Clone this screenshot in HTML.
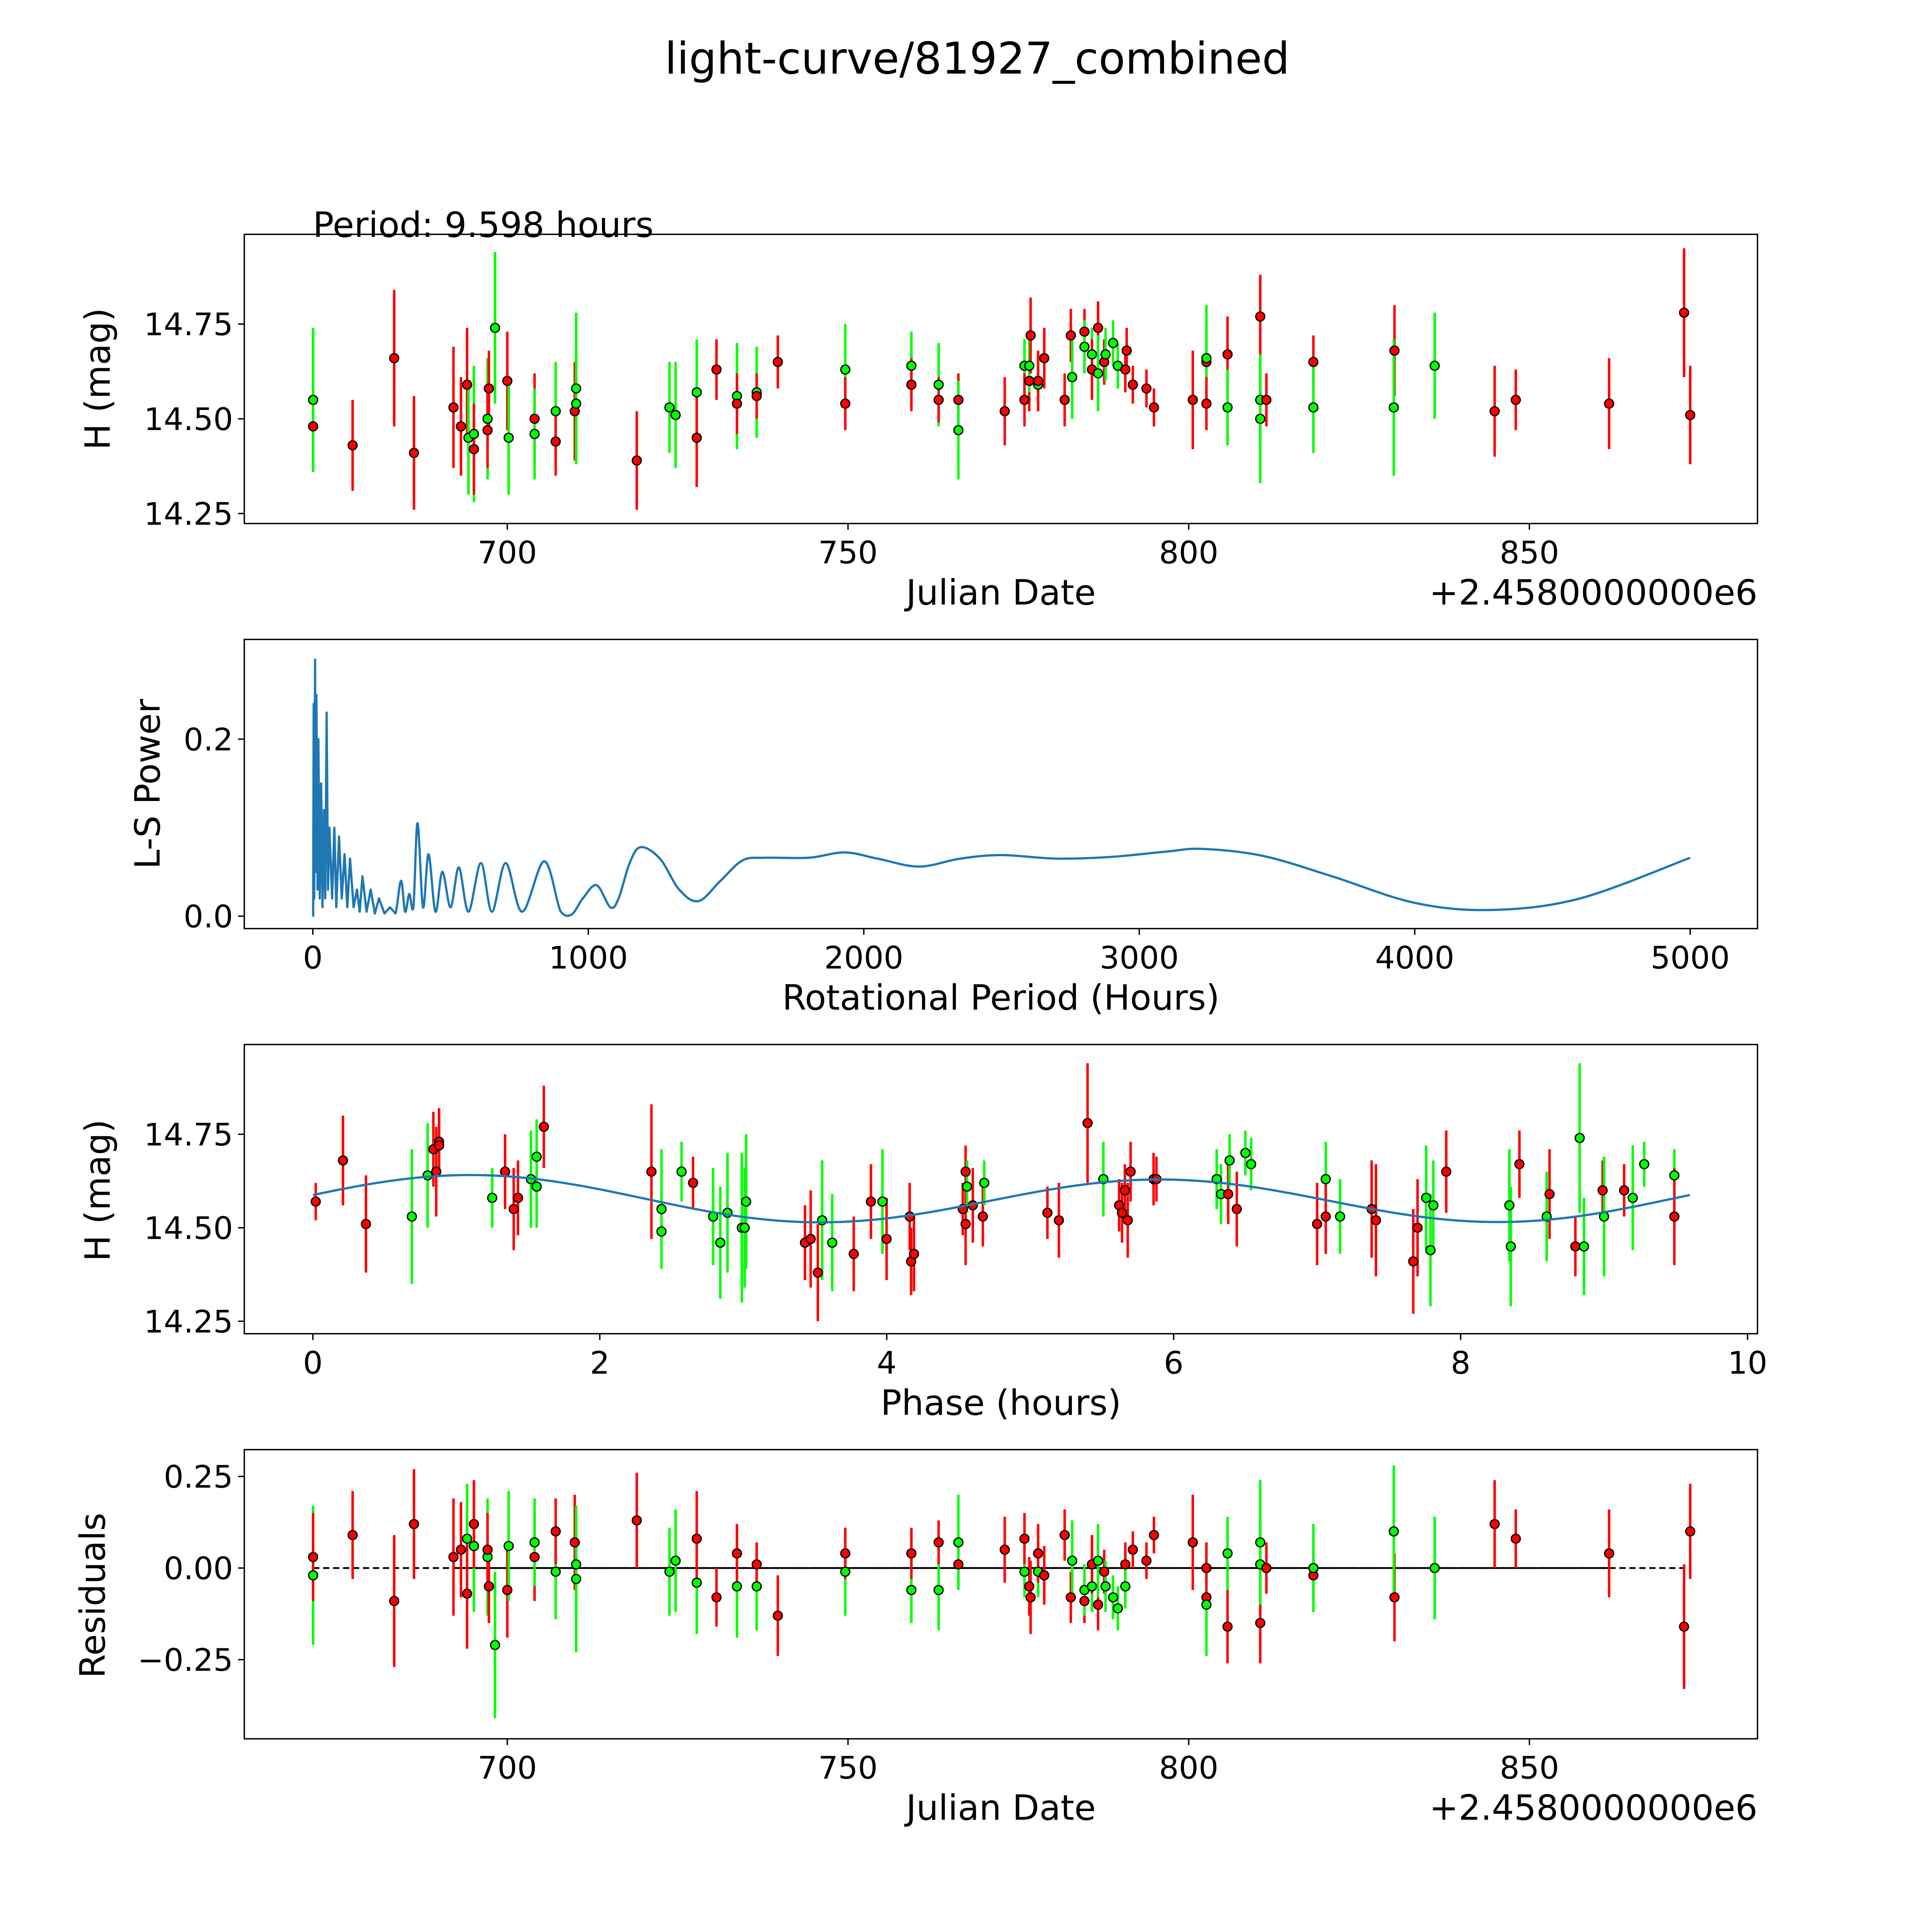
<!DOCTYPE html>
<html><head><meta charset="utf-8"><style>html,body{margin:0;padding:0;background:#fff;overflow:hidden;width:100vw;height:100vh}svg{display:block;width:100vw;height:100vh}text{font-family:"DejaVu Sans","Liberation Sans",sans-serif;fill:#000}</style></head>
<body>
<svg id="fig" xmlns="http://www.w3.org/2000/svg" viewBox="0 0 1550 1550" preserveAspectRatio="none">
<rect width="1550" height="1550" fill="#fff"/>
<text x="784" y="59" font-size="35" text-anchor="middle">light-curve/81927_combined</text>
</svg>
<script>
// ---- Panel 1: light curve data ----
const lcJd=[671.5,671.5,677.3,683.4,686.3,692.1,693.2,694.1,694.3,695.1,695.1,697.1,697.1,697.3,698.2,700.0,700.2,704.0,704.0,707.1,707.1,709.9,710.1,710.1,719.0,723.8,724.7,727.8,727.8,730.7,733.7,733.7,736.6,736.6,739.7,749.6,749.6,759.3,759.3,763.3,763.3,766.2,766.2,773.0,775.9,775.9,776.6,776.6,776.8,777.9,777.9,778.8,781.8,782.7,782.9,784.7,784.7,785.8,785.8,786.7,786.7,787.6,787.8,788.9,789.6,790.7,790.9,791.8,793.8,794.9,800.6,802.6,802.6,802.6,805.7,805.7,810.5,810.5,810.5,811.4,818.3,818.3,830.2,830.1,836.1,844.9,848.0,861.7,872.7,873.6];
const lcMag=[14.48,14.55,14.43,14.66,14.41,14.53,14.48,14.59,14.45,14.46,14.42,14.50,14.47,14.58,14.74,14.60,14.45,14.50,14.46,14.52,14.44,14.52,14.54,14.58,14.39,14.53,14.51,14.57,14.45,14.63,14.56,14.54,14.57,14.56,14.65,14.63,14.54,14.64,14.59,14.59,14.55,14.55,14.47,14.52,14.64,14.55,14.60,14.64,14.72,14.59,14.60,14.66,14.55,14.72,14.61,14.73,14.69,14.67,14.63,14.74,14.62,14.65,14.67,14.70,14.64,14.63,14.68,14.59,14.58,14.53,14.55,14.65,14.66,14.54,14.67,14.53,14.77,14.55,14.50,14.55,14.65,14.53,14.68,14.53,14.64,14.52,14.55,14.54,14.78,14.51];
const lcErr=[0.12,0.19,0.12,0.18,0.15,0.16,0.13,0.15,0.15,0.18,0.12,0.16,0.1,0.1,0.2,0.13,0.15,0.12,0.12,0.13,0.09,0.13,0.14,0.2,0.13,0.12,0.14,0.14,0.13,0.08,0.14,0.08,0.12,0.06,0.07,0.12,0.07,0.09,0.07,0.11,0.06,0.07,0.13,0.09,0.07,0.07,0.08,0.07,0.1,0.07,0.08,0.08,0.07,0.07,0.11,0.06,0.07,0.07,0.08,0.07,0.1,0.06,0.07,0.06,0.06,0.06,0.06,0.05,0.05,0.05,0.13,0.1,0.14,0.07,0.1,0.1,0.11,0.11,0.17,0.07,0.07,0.12,0.12,0.18,0.14,0.12,0.08,0.12,0.17,0.13];
const lcBand=['r','g','r','r','r','r','r','r','g','g','r','g','r','r','g','r','g','r','g','g','r','r','g','g','r','g','g','g','r','r','g','r','g','r','r','g','r','g','r','g','r','r','g','r','g','r','r','g','r','g','r','r','r','r','g','r','g','g','r','r','g','r','g','g','g','r','r','r','r','r','r','r','g','r','r','g','r','g','g','r','r','g','r','g','g','r','r','r','r','r'];
// ---- Panel 2: periodogram ----
const lsPeriod=[0,1,3,5,8,10,13,17,20,25,30,35,40,45,50,55,60,70,78,85,95,105,115,125,135,148,160,170,180,195,210,225,240,260,280,300,320,335,350,365,380,400,420,445,470,500,530,565,610,650,700,760,840,900,940,980,1030,1080,1110,1150,1190,1260,1330,1400,1480,1560,1640,1800,1930,2050,2200,2350,2500,2700,2900,3100,3230,3450,3700,4000,4280,4600,5000];
const lsPower=[0,0,0.24,0.02,0.29,0.05,0.25,0.03,0.2,0.02,0.15,0.01,0.12,0.02,0.23,0.03,0.1,0.02,0.1,0.01,0.09,0.02,0.07,0.01,0.065,0.01,0.03,0.005,0.045,0.005,0.03,0.003,0.02,0.003,0.01,0.003,0.04,0.005,0.025,0.01,0.105,0.01,0.07,0.005,0.05,0.01,0.055,0.005,0.06,0.005,0.06,0.005,0.062,0.005,0.002,0.02,0.035,0.01,0.02,0.06,0.078,0.065,0.03,0.017,0.04,0.063,0.066,0.066,0.072,0.065,0.056,0.065,0.069,0.065,0.067,0.073,0.076,0.068,0.045,0.015,0.007,0.02,0.066];
// ---- Panel 3: phased data ----
const phPhase=[0.02,0.21,0.37,0.69,0.80,0.84,0.86,0.88,0.88,1.25,1.34,1.40,1.43,1.52,1.56,1.56,1.61,2.36,2.43,2.43,2.57,2.65,2.79,2.84,2.89,2.99,3.01,3.02,3.43,3.47,3.52,3.55,3.62,3.77,3.89,3.97,3.999,4.16,4.17,4.19,4.53,4.55,4.55,4.56,4.60,4.67,4.68,5.12,5.20,5.40,5.51,5.62,5.64,5.66,5.68,5.70,5.86,5.88,6.30,6.33,6.38,6.39,6.44,6.50,6.54,7.00,7.06,7.06,7.16,7.38,7.41,7.67,7.70,7.76,7.79,7.81,7.90,8.34,8.35,8.41,8.60,8.62,8.80,8.83,8.86,8.99,9.00,9.14,9.20,9.28,9.49,9.49];
const phMag=[14.57,14.68,14.51,14.53,14.64,14.71,14.65,14.73,14.72,14.58,14.65,14.55,14.58,14.63,14.69,14.61,14.77,14.65,14.55,14.49,14.65,14.62,14.53,14.46,14.54,14.50,14.50,14.57,14.46,14.47,14.38,14.52,14.46,14.43,14.57,14.57,14.47,14.53,14.41,14.43,14.55,14.65,14.51,14.61,14.56,14.53,14.62,14.54,14.52,14.78,14.63,14.56,14.54,14.60,14.52,14.65,14.63,14.63,14.63,14.59,14.59,14.68,14.55,14.70,14.67,14.51,14.63,14.53,14.53,14.55,14.52,14.41,14.50,14.58,14.44,14.56,14.65,14.56,14.45,14.67,14.53,14.59,14.45,14.74,14.45,14.60,14.53,14.60,14.58,14.67,14.64,14.53];
const phBand=['r','r','r','g','g','r','r','r','r','g','r','r','r','g','g','g','r','r','g','g','g','r','g','g','g','g','g','g','r','r','r','g','g','r','r','g','r','r','r','r','r','r','r','g','r','r','g','r','r','r','g','r','r','r','r','r','r','r','g','g','r','g','r','g','g','r','g','r','g','r','r','r','r','g','g','g','r','g','g','r','g','r','r','g','g','r','g','r','g','g','g','r'];
const phErr=[0.05,0.12,0.13,0.18,0.14,0.1,0.12,0.09,0.08,0.08,0.1,0.11,0.1,0.13,0.1,0.11,0.11,0.18,0.16,0.1,0.08,0.07,0.13,0.15,0.16,0.2,0.16,0.18,0.1,0.13,0.13,0.16,0.13,0.1,0.1,0.14,0.11,0.09,0.09,0.1,0.07,0.07,0.11,0.07,0.1,0.08,0.06,0.07,0.1,0.16,0.1,0.07,0.08,0.07,0.1,0.08,0.07,0.06,0.08,0.08,0.08,0.07,0.1,0.06,0.07,0.11,0.1,0.1,0.1,0.13,0.15,0.14,0.13,0.14,0.15,0.12,0.11,0.15,0.16,0.09,0.12,0.12,0.08,0.2,0.13,0.08,0.16,0.07,0.14,0.06,0.07,0.13];
// fit model coefficients
const fitConst=[14.575];
const fitAmp=[0.06,0.006];
const fitShift=[1.1,1.0];
const fitPeriod=[9.598];
// ---- Panel 4: residuals ----
const resJd=[671.5,671.5,677.3,683.4,686.3,692.1,693.2,694.1,694.1,695.1,695.1,697.1,697.1,697.3,698.2,700.0,700.2,704.0,704.0,707.1,707.1,709.9,710.1,710.1,719.0,723.8,724.7,727.8,727.8,730.7,733.7,733.7,736.6,736.6,739.7,749.6,749.6,759.3,759.3,763.3,763.3,766.2,766.2,773.0,775.9,775.9,776.6,776.8,777.9,777.9,778.8,781.8,782.7,782.9,784.7,784.7,785.8,785.8,786.7,786.7,787.6,787.8,788.9,789.6,790.7,790.7,791.8,793.8,794.9,800.6,802.6,802.6,802.6,805.7,805.7,810.5,810.5,810.5,811.4,818.3,818.3,830.2,830.1,836.1,844.9,848.0,861.7,872.7,873.6];
const resVal=[-0.02,0.03,0.09,-0.09,0.12,0.03,0.05,0.08,-0.07,0.06,0.12,0.03,0.05,-0.05,-0.21,-0.06,0.06,0.03,0.07,-0.01,0.10,0.07,0.01,-0.03,0.13,-0.01,0.02,-0.04,0.08,-0.08,-0.05,0.04,-0.05,0.01,-0.13,-0.01,0.04,-0.06,0.04,-0.06,0.07,0.01,0.07,0.05,-0.01,0.08,-0.05,-0.08,-0.01,0.04,-0.02,0.09,-0.08,0.02,-0.09,-0.06,-0.05,0.01,-0.10,0.02,-0.01,-0.05,-0.08,-0.11,0.01,-0.05,0.05,0.02,0.09,0.07,-0.08,-0.10,0.00,-0.16,0.04,-0.15,0.07,0.01,0.00,-0.02,0.00,-0.08,0.10,0.00,0.12,0.08,0.04,-0.16,0.10];
const resErr=[0.19,0.12,0.12,0.18,0.15,0.16,0.13,0.15,0.15,0.18,0.12,0.16,0.1,0.1,0.2,0.13,0.15,0.12,0.12,0.13,0.09,0.13,0.14,0.2,0.13,0.12,0.14,0.14,0.13,0.08,0.14,0.08,0.12,0.06,0.11,0.12,0.07,0.09,0.07,0.11,0.06,0.07,0.13,0.09,0.07,0.07,0.08,0.1,0.07,0.08,0.08,0.07,0.07,0.11,0.06,0.07,0.07,0.08,0.07,0.1,0.06,0.07,0.06,0.06,0.06,0.06,0.05,0.05,0.05,0.13,0.1,0.14,0.07,0.1,0.1,0.11,0.17,0.11,0.07,0.07,0.12,0.12,0.18,0.14,0.12,0.08,0.12,0.17,0.13];
const resBand=['g','r','r','r','r','r','r','g','r','g','r','g','r','r','g','r','g','r','g','g','r','r','g','g','r','g','g','g','r','r','g','r','g','r','r','g','r','g','r','g','r','r','g','r','g','r','r','r','g','r','r','r','r','g','r','g','g','r','r','g','r','g','g','g','r','g','r','r','r','r','r','g','r','r','g','r','g','g','r','r','g','r','g','g','r','r','r','r','r'];
// ticks
const jdTicks=[700,750,800,850];
const magTicks=[14.25,14.50,14.75];
const lsXTicks=[0,1000,2000,3000,4000,5000];
const lsYTicks=[0.0,0.2];
const phTicks=[0,2,4,6,8,10];
const resTicks=[-0.25,0.00,0.25];

const svg=document.getElementById('fig');
const NS='http://www.w3.org/2000/svg';
function mk(tag,attrs,parent){const e=document.createElementNS(NS,tag);for(const k in attrs)e.setAttribute(k,attrs[k]);(parent||svg).appendChild(e);return e;}
function lin(d0,d1,r0,r1){return v=>r0+(v-d0)*(r1-r0)/(d1-d0);}
const L=196,R=1410;
function axesBox(name){
  const g=mk('g',{});
  
  
  return g;
}
function frame(g,top,bot){mk('rect',{x:L,y:top,width:R-L,height:bot-top,fill:'none',stroke:'#000','stroke-width':1.1},g);}
function xTicks(g,ticks,sx,bot,fmt,name){
  ticks.forEach(t=>{const x=sx(t);
    mk('line',{x1:x,x2:x,y1:bot,y2:bot+5,stroke:'#000','stroke-width':1.1},g);
    const tx=mk('text',{x:x,y:bot+32,'font-size':25,'text-anchor':'middle'},g);tx.textContent=fmt(t);
    
    });
}
function yTicks(g,ticks,sy,fmt,name){
  ticks.forEach(t=>{const y=sy(t);
    mk('line',{x1:L-5,x2:L,y1:y,y2:y,stroke:'#000','stroke-width':1.1},g);
    const tx=mk('text',{x:L-9,y:y+9,'font-size':25,'text-anchor':'end'},g);tx.textContent=fmt(t);
    
    });
}
function label(g,txt,x,y,rot,name){
  const t=mk('text',{x:x,y:y,'font-size':28,'text-anchor':'middle'},g);
  if(rot)t.setAttribute('transform','rotate(-90 '+x+' '+y+')');
  t.textContent=txt;
  
  
}
function errPoints(g,xs,ys,es,bs,sx,sy,name){
  const col=b=>b==='r'?'#ff0000':'#00ff00';
  xs.forEach((v,i)=>{const x=sx(v);
    const l=mk('line',{x1:x,x2:x,y1:sy(ys[i]-es[i]),y2:sy(ys[i]+es[i]),stroke:col(bs[i]),'stroke-width':2},g);
    
    });
  xs.forEach((v,i)=>{
    const c=mk('circle',{cx:sx(v),cy:sy(ys[i]),r:3.6,fill:col(bs[i]),stroke:'#000','stroke-width':1},g);
    
    });
}
const fmt2=v=>v.toFixed(2);
const fmtNeg=v=>(v<0?'\u2212':'')+Math.abs(v).toFixed(2);

// Panel 1
{const top=188,bot=420,g=axesBox('light-curve-panel');
 const sx=lin(700,850,407,1227), sy=lin(14.5,14.75,336,260);
 errPoints(g,lcJd,lcMag,lcErr,lcBand,sx,sy,'light-curve-point');
 frame(g,top,bot);
 xTicks(g,jdTicks,sx,bot,v=>String(v),'x-tick-label');
 yTicks(g,magTicks,sy,fmt2,'y-tick-label');
 label(g,'Julian Date',803,485,false,'x-axis-title');
 label(g,'H (mag)',88,304,true,'y-axis-title');
 const o=mk('text',{x:R,y:485,'font-size':28,'text-anchor':'end'},g);o.textContent='+2.4580000000e6';
 
 
 const p=mk('text',{x:251,y:190,'font-size':28},g);p.textContent='Period: 9.598 hours';
 
 }
// Panel 2
{const top=513,bot=745,g=axesBox('periodogram-panel');
 const sx=lin(0,5000,251,1356), sy=lin(0,0.2,735,593);
 const px=lsPeriod.map(sx), py=lsPower.map(sy);
 let d='M'+px[0].toFixed(2)+' '+py[0].toFixed(2);
 for(let i=1;i<px.length;i++){
   if(lsPeriod[i-1]<300){d+=' L'+px[i].toFixed(2)+' '+py[i].toFixed(2);continue;}
   const i0=Math.max(0,i-2),i3=Math.min(px.length-1,i+1);
   const c1x=px[i-1]+(px[i]-px[i0])/6,c1y=py[i-1]+(py[i]-py[i0])/6;
   const c2x=px[i]-(px[i3]-px[i-1])/6,c2y=py[i]-(py[i3]-py[i-1])/6;
   d+=' C'+c1x.toFixed(2)+' '+Math.min(c1y,735.5).toFixed(2)+' '+c2x.toFixed(2)+' '+Math.min(c2y,735.5).toFixed(2)+' '+px[i].toFixed(2)+' '+py[i].toFixed(2);
 }
 const pth=mk('path',{d:d,fill:'none',stroke:'#1f77b4','stroke-width':1.8,'stroke-linejoin':'round'},g);
 
 
 frame(g,top,bot);
 xTicks(g,lsXTicks,sx,bot,v=>String(v),'x-tick-label');
 yTicks(g,lsYTicks,sy,v=>v.toFixed(1),'y-tick-label');
 label(g,'Rotational Period (Hours)',803,810,false,'x-axis-title');
 label(g,'L-S Power',128,629,true,'y-axis-title');}
// Panel 3
{const top=838,bot=1070,g=axesBox('phase-panel');
 const sx=lin(0,10,251,1402), sy=lin(14.5,14.75,985,910);
 errPoints(g,phPhase,phMag,phErr,phBand,sx,sy,'phase-point');
 const P=fitPeriod[0];let d='';
 for(let k=0;k<=300;k++){const p=P*k/300;
   const m=fitConst[0]+fitAmp[0]*Math.cos(4*Math.PI*(p-fitShift[0])/P)+fitAmp[1]*Math.cos(2*Math.PI*(p-fitShift[1])/P);
   d+=(k?'L':'M')+sx(p).toFixed(2)+' '+sy(m).toFixed(2)+' ';}
 const fl=mk('path',{d:d,fill:'none',stroke:'#1f77b4','stroke-width':1.8},g);
 
 
 frame(g,top,bot);
 xTicks(g,phTicks,sx,bot,v=>String(v),'x-tick-label');
 yTicks(g,magTicks,sy,fmt2,'y-tick-label');
 label(g,'Phase (hours)',803,1135,false,'x-axis-title');
 label(g,'H (mag)',88,955,true,'y-axis-title');}
// Panel 4
{const top=1163,bot=1395,g=axesBox('residuals-panel');
 const sx=lin(700,850,407,1227), sy=lin(0,0.25,1258,1184.5);
 const z1=mk('line',{x1:sx(671.5),x2:sx(873.6),y1:sy(0),y2:sy(0),stroke:'#000','stroke-width':1.4,'stroke-dasharray':'5 3'},g);
 
 
 const z2=mk('line',{x1:sx(692),x2:sx(862),y1:sy(0),y2:sy(0),stroke:'#000','stroke-width':1.4},g);
 
 
 errPoints(g,resJd,resVal,resErr,resBand,sx,sy,'residual-point');
 frame(g,top,bot);
 xTicks(g,jdTicks,sx,bot,v=>String(v),'x-tick-label');
 yTicks(g,resTicks,sy,fmtNeg,'y-tick-label');
 label(g,'Julian Date',803,1460,false,'x-axis-title');
 label(g,'Residuals',84,1280,true,'y-axis-title');
 const o=mk('text',{x:R,y:1460,'font-size':28,'text-anchor':'end'},g);o.textContent='+2.4580000000e6';
 
 }
</script>
</body></html>
